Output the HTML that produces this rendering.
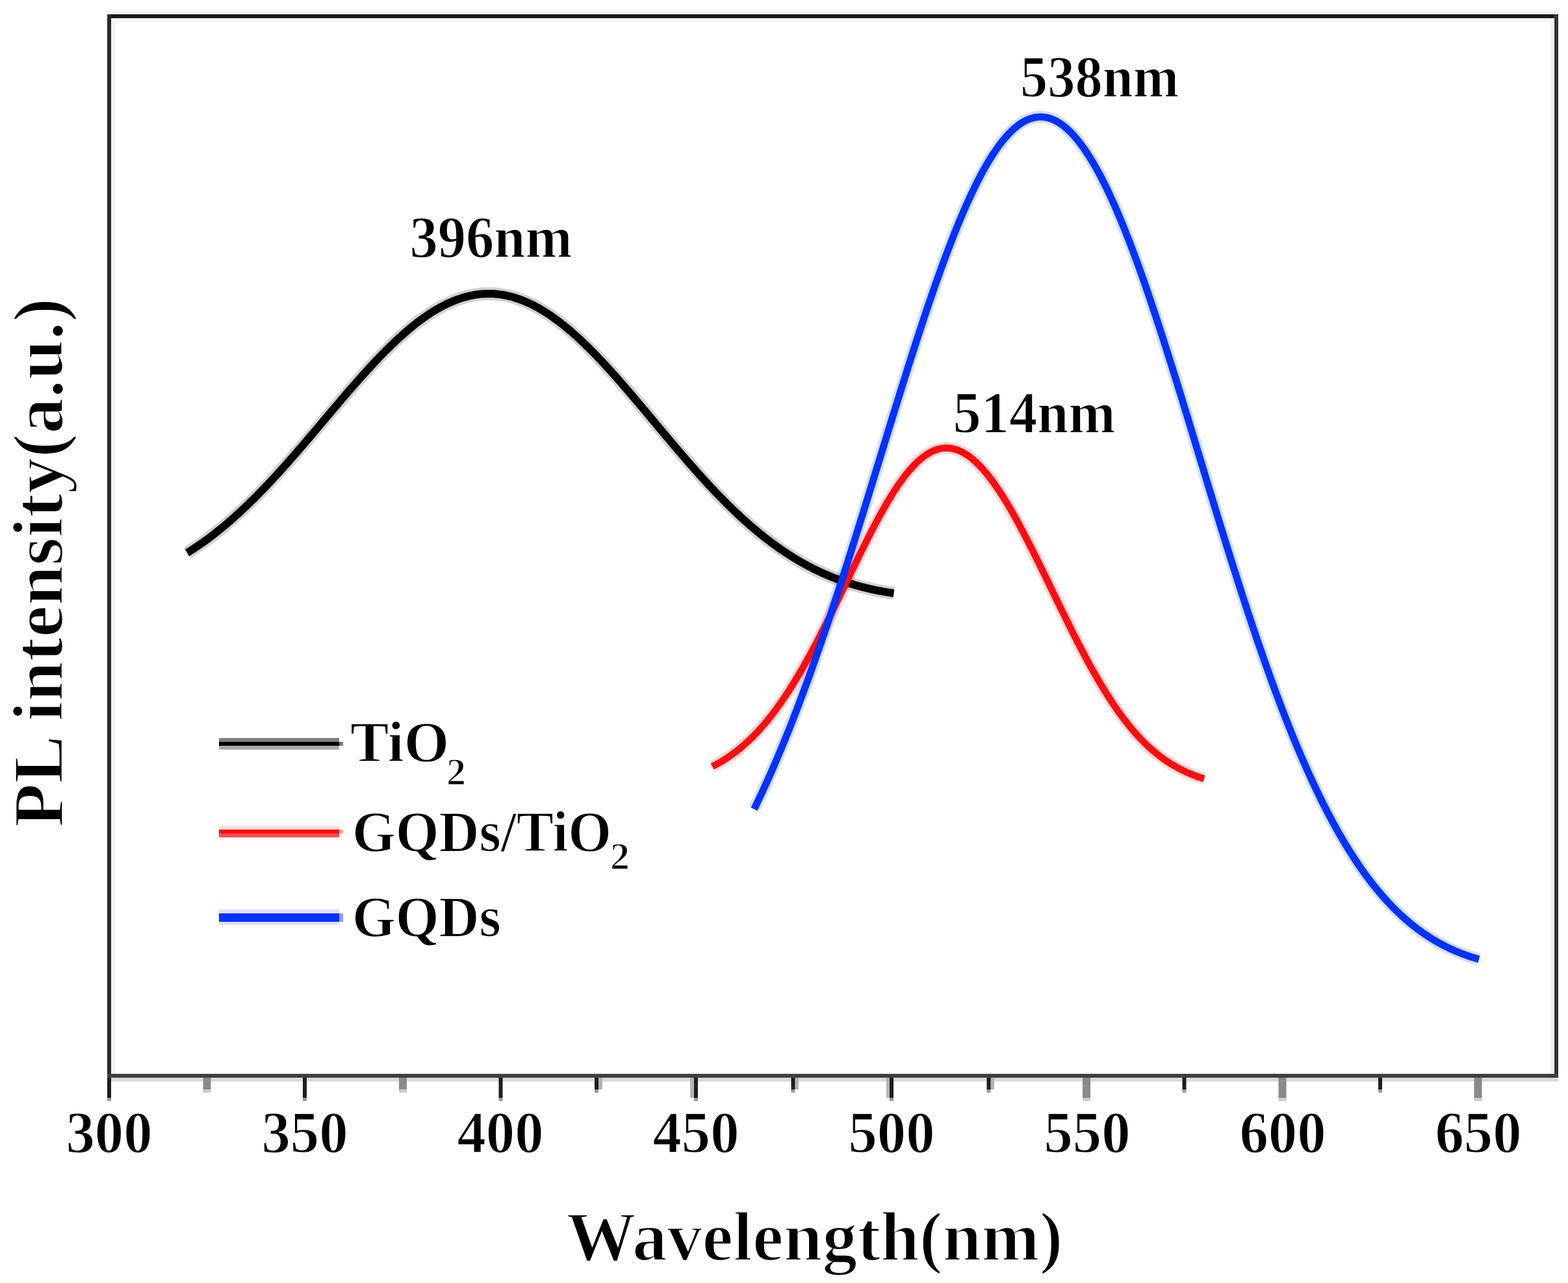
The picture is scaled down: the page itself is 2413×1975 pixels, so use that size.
<!DOCTYPE html>
<html><head><meta charset="utf-8"><title>PL spectra</title>
<style>
html,body{margin:0;padding:0;background:#fff;}
body{width:2413px;height:1975px;overflow:hidden;}
svg{display:block;}
.t{font-family:'Liberation Serif','Times New Roman',serif;font-weight:bold;fill:#000;stroke:#fff;stroke-width:1.5px;}
.ttl{stroke-width:2.5px;}
</style></head><body>
<svg width="2413" height="1975" viewBox="0 0 2413 1975"><rect x="165" y="16" width="2233" height="6" fill="#f1f1f1"/>
<rect x="165" y="28" width="2227" height="6" fill="#f4f4f4"/>
<rect x="171" y="28" width="6" height="1625" fill="#f3f3f3"/>
<rect x="2386" y="28" width="6" height="1625" fill="#f0f0f0"/>
<rect x="165" y="1659" width="2233" height="6" fill="#dcdcdc"/>
<rect x="165" y="22" width="2233" height="6" fill="#191919"/>
<rect x="165" y="22" width="6" height="1637" fill="#2a2a2a"/>
<rect x="2392" y="22" width="6" height="1637" fill="#333"/>
<rect x="165" y="1653" width="2233" height="6" fill="#404040"/>
<rect x="165" y="1659" width="6" height="31" fill="#1e1e1e"/>
<rect x="165" y="1690" width="6" height="5" fill="#9a9a9a"/>
<rect x="312.5" y="1659" width="12.0" height="18" fill="#8a8a8a"/>
<rect x="312.5" y="1677" width="12.0" height="5" fill="#cfcfcf"/>
<rect x="466" y="1659" width="6" height="31" fill="#1e1e1e"/>
<rect x="466" y="1690" width="6" height="5" fill="#9a9a9a"/>
<rect x="614" y="1659" width="12" height="18" fill="#8a8a8a"/>
<rect x="614" y="1677" width="12" height="5" fill="#cfcfcf"/>
<rect x="767.5" y="1659" width="6.0" height="31" fill="#1e1e1e"/>
<rect x="767.5" y="1690" width="6.0" height="5" fill="#9a9a9a"/>
<rect x="921" y="1659" width="6" height="18" fill="#b4b4b4"/>
<rect x="915" y="1659" width="6" height="18" fill="#1e1e1e"/>
<rect x="915" y="1677" width="6" height="5" fill="#9a9a9a"/>
<rect x="1062" y="1659" width="6" height="31" fill="#b4b4b4"/>
<rect x="1068" y="1659" width="6" height="31" fill="#1e1e1e"/>
<rect x="1068" y="1690" width="6" height="5" fill="#9a9a9a"/>
<rect x="1223.5" y="1659" width="5.5" height="18" fill="#b4b4b4"/>
<rect x="1217.5" y="1659" width="6.0" height="18" fill="#1e1e1e"/>
<rect x="1217.5" y="1677" width="6.0" height="5" fill="#9a9a9a"/>
<rect x="1364" y="1659" width="5" height="31" fill="#b4b4b4"/>
<rect x="1369" y="1659" width="6" height="31" fill="#1e1e1e"/>
<rect x="1369" y="1690" width="6" height="5" fill="#9a9a9a"/>
<rect x="1524.5" y="1659" width="5.5" height="18" fill="#b4b4b4"/>
<rect x="1518.5" y="1659" width="6.0" height="18" fill="#1e1e1e"/>
<rect x="1518.5" y="1677" width="6.0" height="5" fill="#9a9a9a"/>
<rect x="1666" y="1659" width="12" height="31" fill="#8a8a8a"/>
<rect x="1666" y="1690" width="12" height="5" fill="#cfcfcf"/>
<rect x="1819.5" y="1659" width="6.0" height="18" fill="#1e1e1e"/>
<rect x="1819.5" y="1677" width="6.0" height="5" fill="#9a9a9a"/>
<rect x="1967.5" y="1659" width="12.0" height="31" fill="#8a8a8a"/>
<rect x="1967.5" y="1690" width="12.0" height="5" fill="#cfcfcf"/>
<rect x="2121" y="1659" width="6" height="18" fill="#1e1e1e"/>
<rect x="2121" y="1677" width="6" height="5" fill="#9a9a9a"/>
<rect x="2268.5" y="1659" width="12.0" height="31" fill="#8a8a8a"/>
<rect x="2268.5" y="1690" width="12.0" height="5" fill="#cfcfcf"/>
<text x="168.0" y="1774" text-anchor="middle" font-size="90" class="t" textLength="133" lengthAdjust="spacingAndGlyphs">300</text>
<text x="469.0" y="1774" text-anchor="middle" font-size="90" class="t" textLength="133" lengthAdjust="spacingAndGlyphs">350</text>
<text x="770.0" y="1774" text-anchor="middle" font-size="90" class="t" textLength="133" lengthAdjust="spacingAndGlyphs">400</text>
<text x="1071.0" y="1774" text-anchor="middle" font-size="90" class="t" textLength="133" lengthAdjust="spacingAndGlyphs">450</text>
<text x="1372.0" y="1774" text-anchor="middle" font-size="90" class="t" textLength="133" lengthAdjust="spacingAndGlyphs">500</text>
<text x="1673.0" y="1774" text-anchor="middle" font-size="90" class="t" textLength="133" lengthAdjust="spacingAndGlyphs">550</text>
<text x="1974.0" y="1774" text-anchor="middle" font-size="90" class="t" textLength="133" lengthAdjust="spacingAndGlyphs">600</text>
<text x="2275.0" y="1774" text-anchor="middle" font-size="90" class="t" textLength="133" lengthAdjust="spacingAndGlyphs">650</text>
<path d="M288.0,851.0 L291.0,849.2 L294.0,847.3 L297.0,845.3 L300.0,843.3 L303.0,841.3 L306.0,839.3 L309.0,837.2 L312.0,835.1 L315.0,833.0 L318.0,830.8 L321.0,828.6 L324.0,826.3 L327.0,824.0 L330.0,821.7 L333.0,819.3 L336.0,816.9 L339.0,814.5 L342.0,812.1 L345.0,809.6 L348.0,807.1 L351.0,804.5 L354.0,801.9 L357.0,799.3 L360.0,796.6 L363.0,793.9 L366.0,791.2 L369.0,788.5 L372.0,785.7 L375.0,782.9 L378.0,780.0 L381.0,777.2 L384.0,774.2 L387.0,771.3 L390.0,768.4 L393.0,765.4 L396.0,762.3 L399.0,759.3 L402.0,756.2 L405.0,753.1 L408.0,750.0 L411.0,746.8 L414.0,743.7 L417.0,740.5 L420.0,737.2 L423.0,734.0 L426.0,730.7 L429.0,727.4 L432.0,724.1 L435.0,720.8 L438.0,717.5 L441.0,714.1 L444.0,710.7 L447.0,707.3 L450.0,703.9 L453.0,700.4 L456.0,697.0 L459.0,693.5 L462.0,690.0 L465.0,686.6 L468.0,683.1 L471.0,679.5 L474.0,676.0 L477.0,672.5 L480.0,669.0 L483.0,665.4 L486.0,661.9 L489.0,658.3 L492.0,654.8 L495.0,651.2 L498.0,647.7 L501.0,644.1 L504.0,640.5 L507.0,637.0 L510.0,633.4 L513.0,629.9 L516.0,626.3 L519.0,622.8 L522.0,619.3 L525.0,615.7 L528.0,612.2 L531.0,608.7 L534.0,605.2 L537.0,601.7 L540.0,598.3 L543.0,594.8 L546.0,591.4 L549.0,588.0 L552.0,584.6 L555.0,581.2 L558.0,577.8 L561.0,574.5 L564.0,571.2 L567.0,567.9 L570.0,564.6 L573.0,561.4 L576.0,558.1 L579.0,555.0 L582.0,551.8 L585.0,548.7 L588.0,545.6 L591.0,542.5 L594.0,539.5 L597.0,536.5 L600.0,533.6 L603.0,530.6 L606.0,527.8 L609.0,524.9 L612.0,522.1 L615.0,519.4 L618.0,516.7 L621.0,514.0 L624.0,511.4 L627.0,508.8 L630.0,506.2 L633.0,503.8 L636.0,501.3 L639.0,498.9 L642.0,496.6 L645.0,494.3 L648.0,492.1 L651.0,489.9 L654.0,487.8 L657.0,485.7 L660.0,483.7 L663.0,481.7 L666.0,479.8 L669.0,478.0 L672.0,476.2 L675.0,474.5 L678.0,472.8 L681.0,471.2 L684.0,469.6 L687.0,468.2 L690.0,466.7 L693.0,465.4 L696.0,464.1 L699.0,462.9 L702.0,461.7 L705.0,460.6 L708.0,459.6 L711.0,458.6 L714.0,457.7 L717.0,456.9 L720.0,456.1 L723.0,455.4 L726.0,454.8 L729.0,454.2 L732.0,453.7 L735.0,453.3 L738.0,452.9 L741.0,452.6 L744.0,452.4 L747.0,452.2 L750.0,452.2 L753.0,452.2 L756.0,452.2 L759.0,452.3 L762.0,452.5 L765.0,452.8 L768.0,453.1 L771.0,453.5 L774.0,454.0 L777.0,454.5 L780.0,455.1 L783.0,455.8 L786.0,456.5 L789.0,457.3 L792.0,458.2 L795.0,459.2 L798.0,460.2 L801.0,461.2 L804.0,462.4 L807.0,463.6 L810.0,464.9 L813.0,466.2 L816.0,467.6 L819.0,469.0 L822.0,470.6 L825.0,472.2 L828.0,473.8 L831.0,475.5 L834.0,477.3 L837.0,479.1 L840.0,481.0 L843.0,482.9 L846.0,484.9 L849.0,487.0 L852.0,489.1 L855.0,491.3 L858.0,493.5 L861.0,495.7 L864.0,498.1 L867.0,500.4 L870.0,502.9 L873.0,505.3 L876.0,507.9 L879.0,510.4 L882.0,513.1 L885.0,515.7 L888.0,518.4 L891.0,521.2 L894.0,524.0 L897.0,526.8 L900.0,529.7 L903.0,532.6 L906.0,535.6 L909.0,538.6 L912.0,541.6 L915.0,544.6 L918.0,547.7 L921.0,550.9 L924.0,554.0 L927.0,557.2 L930.0,560.4 L933.0,563.7 L936.0,567.0 L939.0,570.3 L942.0,573.6 L945.0,577.0 L948.0,580.3 L951.0,583.7 L954.0,587.1 L957.0,590.6 L960.0,594.0 L963.0,597.5 L966.0,601.0 L969.0,604.5 L972.0,608.0 L975.0,611.5 L978.0,615.1 L981.0,618.6 L984.0,622.2 L987.0,625.8 L990.0,629.3 L993.0,632.9 L996.0,636.5 L999.0,640.1 L1002.0,643.7 L1005.0,647.3 L1008.0,650.9 L1011.0,654.5 L1014.0,658.1 L1017.0,661.6 L1020.0,665.2 L1023.0,668.8 L1026.0,672.4 L1029.0,675.9 L1032.0,679.5 L1035.0,683.1 L1038.0,686.6 L1041.0,690.1 L1044.0,693.7 L1047.0,697.2 L1050.0,700.7 L1053.0,704.1 L1056.0,707.6 L1059.0,711.1 L1062.0,714.5 L1065.0,717.9 L1068.0,721.3 L1071.0,724.7 L1074.0,728.1 L1077.0,731.4 L1080.0,734.7 L1083.0,738.0 L1086.0,741.3 L1089.0,744.6 L1092.0,747.8 L1095.0,751.0 L1098.0,754.2 L1101.0,757.3 L1104.0,760.5 L1107.0,763.6 L1110.0,766.6 L1113.0,769.7 L1116.0,772.7 L1119.0,775.7 L1122.0,778.7 L1125.0,781.6 L1128.0,784.5 L1131.0,787.4 L1134.0,790.2 L1137.0,793.0 L1140.0,795.8 L1143.0,798.6 L1146.0,801.3 L1149.0,804.0 L1152.0,806.6 L1155.0,809.3 L1158.0,811.8 L1161.0,814.4 L1164.0,816.9 L1167.0,819.4 L1170.0,821.9 L1173.0,824.3 L1176.0,826.7 L1179.0,829.0 L1182.0,831.3 L1185.0,833.6 L1188.0,835.8 L1191.0,838.1 L1194.0,840.2 L1197.0,842.4 L1200.0,844.5 L1203.0,846.6 L1206.0,848.6 L1209.0,850.6 L1212.0,852.6 L1215.0,854.5 L1218.0,856.4 L1221.0,858.3 L1224.0,860.1 L1227.0,861.9 L1230.0,863.7 L1233.0,865.4 L1236.0,867.1 L1239.0,868.7 L1242.0,870.4 L1245.0,872.0 L1248.0,873.5 L1251.0,875.1 L1254.0,876.6 L1257.0,878.0 L1260.0,879.5 L1263.0,880.9 L1266.0,882.2 L1269.0,883.6 L1272.0,884.9 L1275.0,886.1 L1278.0,887.4 L1281.0,888.6 L1284.0,889.8 L1287.0,890.9 L1290.0,892.1 L1293.0,893.1 L1296.0,894.2 L1299.0,895.3 L1302.0,896.3 L1305.0,897.2 L1308.0,898.2 L1311.0,899.1 L1314.0,900.0 L1317.0,900.9 L1320.0,901.7 L1323.0,902.6 L1326.0,903.4 L1329.0,904.1 L1332.0,904.9 L1335.0,905.6 L1338.0,906.3 L1341.0,907.0 L1344.0,907.6 L1347.0,908.3 L1350.0,908.9 L1353.0,909.5 L1356.0,910.0 L1359.0,910.6 L1362.0,911.1 L1365.0,911.6 L1368.0,912.1 L1371.0,912.5 L1374.0,913.0 L1375.5,913.2" fill="none" stroke="#000" stroke-opacity="0.18" stroke-width="20" stroke-linejoin="round"/>
<path d="M1096.0,1179.9 L1099.0,1178.4 L1102.0,1176.8 L1105.0,1175.2 L1108.0,1173.5 L1111.0,1171.7 L1114.0,1169.9 L1117.0,1167.9 L1120.0,1166.0 L1123.0,1163.9 L1126.0,1161.8 L1129.0,1159.6 L1132.0,1157.4 L1135.0,1155.0 L1138.0,1152.6 L1141.0,1150.2 L1144.0,1147.6 L1147.0,1144.9 L1150.0,1142.2 L1153.0,1139.4 L1156.0,1136.5 L1159.0,1133.5 L1162.0,1130.5 L1165.0,1127.3 L1168.0,1124.1 L1171.0,1120.8 L1174.0,1117.4 L1177.0,1113.9 L1180.0,1110.3 L1183.0,1106.6 L1186.0,1102.8 L1189.0,1098.9 L1192.0,1095.0 L1195.0,1091.0 L1198.0,1086.8 L1201.0,1082.6 L1204.0,1078.3 L1207.0,1073.9 L1210.0,1069.4 L1213.0,1064.8 L1216.0,1060.1 L1219.0,1055.4 L1222.0,1050.5 L1225.0,1045.6 L1228.0,1040.6 L1231.0,1035.5 L1234.0,1030.4 L1237.0,1025.1 L1240.0,1019.8 L1243.0,1014.4 L1246.0,1008.9 L1249.0,1003.4 L1252.0,997.8 L1255.0,992.1 L1258.0,986.4 L1261.0,980.6 L1264.0,974.7 L1267.0,968.8 L1270.0,962.9 L1273.0,956.9 L1276.0,950.8 L1279.0,944.8 L1282.0,938.7 L1285.0,932.5 L1288.0,926.3 L1291.0,920.2 L1294.0,913.9 L1297.0,907.7 L1300.0,901.5 L1303.0,895.3 L1306.0,889.0 L1309.0,882.8 L1312.0,876.6 L1315.0,870.4 L1318.0,864.2 L1321.0,858.0 L1324.0,851.9 L1327.0,845.8 L1330.0,839.8 L1333.0,833.8 L1336.0,827.8 L1339.0,821.9 L1342.0,816.1 L1345.0,810.4 L1348.0,804.7 L1351.0,799.1 L1354.0,793.6 L1357.0,788.2 L1360.0,782.8 L1363.0,777.6 L1366.0,772.5 L1369.0,767.5 L1372.0,762.6 L1375.0,757.8 L1378.0,753.2 L1381.0,748.7 L1384.0,744.3 L1387.0,740.1 L1390.0,736.0 L1393.0,732.0 L1396.0,728.3 L1399.0,724.6 L1402.0,721.2 L1405.0,717.9 L1408.0,714.7 L1411.0,711.8 L1414.0,709.0 L1417.0,706.4 L1420.0,704.0 L1423.0,701.7 L1426.0,699.7 L1429.0,697.8 L1432.0,696.1 L1435.0,694.6 L1438.0,693.3 L1441.0,692.2 L1444.0,691.3 L1447.0,690.6 L1450.0,690.1 L1453.0,689.8 L1456.0,689.6 L1459.0,689.7 L1462.0,690.0 L1465.0,690.4 L1468.0,691.1 L1471.0,691.9 L1474.0,692.9 L1477.0,694.2 L1480.0,695.6 L1483.0,697.2 L1486.0,699.0 L1489.0,700.9 L1492.0,703.1 L1495.0,705.4 L1498.0,707.9 L1501.0,710.5 L1504.0,713.4 L1507.0,716.4 L1510.0,719.5 L1513.0,722.8 L1516.0,726.3 L1519.0,729.9 L1522.0,733.7 L1525.0,737.6 L1528.0,741.7 L1531.0,745.9 L1534.0,750.2 L1537.0,754.6 L1540.0,759.2 L1543.0,763.9 L1546.0,768.7 L1549.0,773.6 L1552.0,778.6 L1555.0,783.7 L1558.0,788.9 L1561.0,794.2 L1564.0,799.6 L1567.0,805.1 L1570.0,810.7 L1573.0,816.3 L1576.0,822.0 L1579.0,827.8 L1582.0,833.6 L1585.0,839.5 L1588.0,845.4 L1591.0,851.4 L1594.0,857.4 L1597.0,863.4 L1600.0,869.5 L1603.0,875.6 L1606.0,881.8 L1609.0,887.9 L1612.0,894.1 L1615.0,900.3 L1618.0,906.5 L1621.0,912.7 L1624.0,918.9 L1627.0,925.1 L1630.0,931.2 L1633.0,937.4 L1636.0,943.5 L1639.0,949.7 L1642.0,955.7 L1645.0,961.8 L1648.0,967.8 L1651.0,973.8 L1654.0,979.8 L1657.0,985.7 L1660.0,991.5 L1663.0,997.3 L1666.0,1003.0 L1669.0,1008.7 L1672.0,1014.3 L1675.0,1019.9 L1678.0,1025.4 L1681.0,1030.8 L1684.0,1036.1 L1687.0,1041.4 L1690.0,1046.6 L1693.0,1051.7 L1696.0,1056.7 L1699.0,1061.6 L1702.0,1066.5 L1705.0,1071.3 L1708.0,1075.9 L1711.0,1080.5 L1714.0,1085.0 L1717.0,1089.4 L1720.0,1093.7 L1723.0,1097.9 L1726.0,1102.0 L1729.0,1106.1 L1732.0,1110.0 L1735.0,1113.8 L1738.0,1117.6 L1741.0,1121.2 L1744.0,1124.8 L1747.0,1128.2 L1750.0,1131.6 L1753.0,1134.8 L1756.0,1138.0 L1759.0,1141.1 L1762.0,1144.1 L1765.0,1147.0 L1768.0,1149.8 L1771.0,1152.5 L1774.0,1155.1 L1777.0,1157.7 L1780.0,1160.1 L1783.0,1162.5 L1786.0,1164.8 L1789.0,1167.0 L1792.0,1169.2 L1795.0,1171.3 L1798.0,1173.3 L1801.0,1175.2 L1804.0,1177.0 L1807.0,1178.8 L1810.0,1180.5 L1813.0,1182.2 L1816.0,1183.8 L1819.0,1185.3 L1822.0,1186.8 L1825.0,1188.2 L1828.0,1189.5 L1831.0,1190.8 L1834.0,1192.1 L1837.0,1193.3 L1840.0,1194.4 L1843.0,1195.5 L1846.0,1196.6 L1849.0,1197.6 L1852.0,1198.5 L1853.0,1198.8" fill="none" stroke="#ff0c10" stroke-opacity="0.16" stroke-width="19" stroke-linejoin="round"/>
<path d="M1160.5,1245.5 L1163.5,1239.3 L1166.5,1233.1 L1169.5,1226.7 L1172.5,1220.3 L1175.5,1213.8 L1178.5,1207.2 L1181.5,1200.6 L1184.5,1193.9 L1187.5,1187.0 L1190.5,1180.2 L1193.5,1173.2 L1196.5,1166.2 L1199.5,1159.0 L1202.5,1151.8 L1205.5,1144.6 L1208.5,1137.2 L1211.5,1129.8 L1214.5,1122.3 L1217.5,1114.7 L1220.5,1107.0 L1223.5,1099.3 L1226.5,1091.5 L1229.5,1083.6 L1232.5,1075.6 L1235.5,1067.6 L1238.5,1059.5 L1241.5,1051.3 L1244.5,1043.1 L1247.5,1034.8 L1250.5,1026.4 L1253.5,1017.9 L1256.5,1009.4 L1259.5,1000.8 L1262.5,992.2 L1265.5,983.5 L1268.5,974.7 L1271.5,965.8 L1274.5,957.0 L1277.5,948.0 L1280.5,939.0 L1283.5,929.9 L1286.5,920.8 L1289.5,911.6 L1292.5,902.4 L1295.5,893.1 L1298.5,883.8 L1301.5,874.5 L1304.5,865.1 L1307.5,855.6 L1310.5,846.1 L1313.5,836.6 L1316.5,827.1 L1319.5,817.5 L1322.5,807.9 L1325.5,798.2 L1328.5,788.6 L1331.5,778.9 L1334.5,769.2 L1337.5,759.4 L1340.5,749.7 L1343.5,739.9 L1346.5,730.2 L1349.5,720.4 L1352.5,710.6 L1355.5,700.8 L1358.5,691.0 L1361.5,681.3 L1364.5,671.5 L1367.5,661.7 L1370.5,652.0 L1373.5,642.2 L1376.5,632.5 L1379.5,622.8 L1382.5,613.1 L1385.5,603.5 L1388.5,593.9 L1391.5,584.3 L1394.5,574.8 L1397.5,565.2 L1400.5,555.8 L1403.5,546.4 L1406.5,537.0 L1409.5,527.7 L1412.5,518.4 L1415.5,509.2 L1418.5,500.1 L1421.5,491.0 L1424.5,482.0 L1427.5,473.1 L1430.5,464.3 L1433.5,455.5 L1436.5,446.8 L1439.5,438.2 L1442.5,429.7 L1445.5,421.3 L1448.5,412.9 L1451.5,404.7 L1454.5,396.6 L1457.5,388.6 L1460.5,380.7 L1463.5,372.9 L1466.5,365.2 L1469.5,357.6 L1472.5,350.2 L1475.5,342.8 L1478.5,335.6 L1481.5,328.6 L1484.5,321.6 L1487.5,314.8 L1490.5,308.2 L1493.5,301.7 L1496.5,295.3 L1499.5,289.1 L1502.5,283.0 L1505.5,277.1 L1508.5,271.3 L1511.5,265.7 L1514.5,260.2 L1517.5,254.9 L1520.5,249.8 L1523.5,244.8 L1526.5,240.0 L1529.5,235.4 L1532.5,231.0 L1535.5,226.7 L1538.5,222.6 L1541.5,218.7 L1544.5,214.9 L1547.5,211.4 L1550.5,208.0 L1553.5,204.8 L1556.5,201.8 L1559.5,199.0 L1562.5,196.4 L1565.5,194.0 L1568.5,191.7 L1571.5,189.7 L1574.5,187.8 L1577.5,186.2 L1580.5,184.7 L1583.5,183.4 L1586.5,182.4 L1589.5,181.5 L1592.5,180.8 L1595.5,180.4 L1598.5,180.1 L1601.5,180.0 L1604.5,180.1 L1607.5,180.4 L1610.5,180.9 L1613.5,181.7 L1616.5,182.6 L1619.5,183.7 L1622.5,185.0 L1625.5,186.5 L1628.5,188.2 L1631.5,190.1 L1634.5,192.2 L1637.5,194.5 L1640.5,197.0 L1643.5,199.6 L1646.5,202.5 L1649.5,205.5 L1652.5,208.8 L1655.5,212.2 L1658.5,215.8 L1661.5,219.6 L1664.5,223.6 L1667.5,227.7 L1670.5,232.1 L1673.5,236.6 L1676.5,241.3 L1679.5,246.1 L1682.5,251.1 L1685.5,256.3 L1688.5,261.7 L1691.5,267.2 L1694.5,272.9 L1697.5,278.8 L1700.5,284.8 L1703.5,290.9 L1706.5,297.2 L1709.5,303.7 L1712.5,310.3 L1715.5,317.0 L1718.5,323.9 L1721.5,331.0 L1724.5,338.1 L1727.5,345.4 L1730.5,352.8 L1733.5,360.4 L1736.5,368.0 L1739.5,375.8 L1742.5,383.7 L1745.5,391.8 L1748.5,399.9 L1751.5,408.1 L1754.5,416.5 L1757.5,424.9 L1760.5,433.4 L1763.5,442.1 L1766.5,450.8 L1769.5,459.6 L1772.5,468.5 L1775.5,477.5 L1778.5,486.5 L1781.5,495.7 L1784.5,504.9 L1787.5,514.1 L1790.5,523.4 L1793.5,532.8 L1796.5,542.3 L1799.5,551.8 L1802.5,561.3 L1805.5,570.9 L1808.5,580.5 L1811.5,590.2 L1814.5,599.9 L1817.5,609.7 L1820.5,619.5 L1823.5,629.3 L1826.5,639.1 L1829.5,648.9 L1832.5,658.8 L1835.5,668.7 L1838.5,678.6 L1841.5,688.5 L1844.5,698.4 L1847.5,708.3 L1850.5,718.2 L1853.5,728.1 L1856.5,738.0 L1859.5,747.9 L1862.5,757.8 L1865.5,767.6 L1868.5,777.4 L1871.5,787.3 L1874.5,797.1 L1877.5,806.8 L1880.5,816.6 L1883.5,826.3 L1886.5,836.0 L1889.5,845.6 L1892.5,855.2 L1895.5,864.8 L1898.5,874.3 L1901.5,883.7 L1904.5,893.2 L1907.5,902.5 L1910.5,911.9 L1913.5,921.1 L1916.5,930.3 L1919.5,939.5 L1922.5,948.6 L1925.5,957.6 L1928.5,966.6 L1931.5,975.5 L1934.5,984.4 L1937.5,993.1 L1940.5,1001.8 L1943.5,1010.5 L1946.5,1019.0 L1949.5,1027.5 L1952.5,1035.9 L1955.5,1044.3 L1958.5,1052.5 L1961.5,1060.7 L1964.5,1068.8 L1967.5,1076.9 L1970.5,1084.8 L1973.5,1092.7 L1976.5,1100.4 L1979.5,1108.1 L1982.5,1115.7 L1985.5,1123.3 L1988.5,1130.7 L1991.5,1138.1 L1994.5,1145.3 L1997.5,1152.5 L2000.5,1159.6 L2003.5,1166.6 L2006.5,1173.5 L2009.5,1180.3 L2012.5,1187.1 L2015.5,1193.7 L2018.5,1200.3 L2021.5,1206.7 L2024.5,1213.1 L2027.5,1219.4 L2030.5,1225.6 L2033.5,1231.7 L2036.5,1237.7 L2039.5,1243.6 L2042.5,1249.5 L2045.5,1255.2 L2048.5,1260.9 L2051.5,1266.5 L2054.5,1271.9 L2057.5,1277.3 L2060.5,1282.6 L2063.5,1287.9 L2066.5,1293.0 L2069.5,1298.0 L2072.5,1303.0 L2075.5,1307.9 L2078.5,1312.6 L2081.5,1317.3 L2084.5,1321.9 L2087.5,1326.5 L2090.5,1330.9 L2093.5,1335.3 L2096.5,1339.6 L2099.5,1343.8 L2102.5,1347.9 L2105.5,1351.9 L2108.5,1355.9 L2111.5,1359.8 L2114.5,1363.6 L2117.5,1367.3 L2120.5,1371.0 L2123.5,1374.6 L2126.5,1378.1 L2129.5,1381.5 L2132.5,1384.8 L2135.5,1388.1 L2138.5,1391.3 L2141.5,1394.5 L2144.5,1397.5 L2147.5,1400.6 L2150.5,1403.5 L2153.5,1406.4 L2156.5,1409.2 L2159.5,1411.9 L2162.5,1414.6 L2165.5,1417.2 L2168.5,1419.7 L2171.5,1422.2 L2174.5,1424.6 L2177.5,1427.0 L2180.5,1429.3 L2183.5,1431.5 L2186.5,1433.7 L2189.5,1435.9 L2192.5,1437.9 L2195.5,1439.9 L2198.5,1441.9 L2201.5,1443.8 L2204.5,1445.7 L2207.5,1447.5 L2210.5,1449.3 L2213.5,1451.0 L2216.5,1452.6 L2219.5,1454.2 L2222.5,1455.8 L2225.5,1457.3 L2228.5,1458.8 L2231.5,1460.2 L2234.5,1461.6 L2237.5,1462.9 L2240.5,1464.2 L2243.5,1465.5 L2246.5,1466.7 L2249.5,1467.9 L2252.5,1469.0 L2255.5,1470.1 L2258.5,1471.2 L2261.5,1472.2 L2264.5,1473.2 L2267.5,1474.1 L2270.5,1475.0 L2273.5,1475.9 L2276.0,1476.6" fill="none" stroke="#0033ff" stroke-opacity="0.16" stroke-width="19" stroke-linejoin="round"/>
<path d="M288.0,851.0 L291.0,849.2 L294.0,847.3 L297.0,845.3 L300.0,843.3 L303.0,841.3 L306.0,839.3 L309.0,837.2 L312.0,835.1 L315.0,833.0 L318.0,830.8 L321.0,828.6 L324.0,826.3 L327.0,824.0 L330.0,821.7 L333.0,819.3 L336.0,816.9 L339.0,814.5 L342.0,812.1 L345.0,809.6 L348.0,807.1 L351.0,804.5 L354.0,801.9 L357.0,799.3 L360.0,796.6 L363.0,793.9 L366.0,791.2 L369.0,788.5 L372.0,785.7 L375.0,782.9 L378.0,780.0 L381.0,777.2 L384.0,774.2 L387.0,771.3 L390.0,768.4 L393.0,765.4 L396.0,762.3 L399.0,759.3 L402.0,756.2 L405.0,753.1 L408.0,750.0 L411.0,746.8 L414.0,743.7 L417.0,740.5 L420.0,737.2 L423.0,734.0 L426.0,730.7 L429.0,727.4 L432.0,724.1 L435.0,720.8 L438.0,717.5 L441.0,714.1 L444.0,710.7 L447.0,707.3 L450.0,703.9 L453.0,700.4 L456.0,697.0 L459.0,693.5 L462.0,690.0 L465.0,686.6 L468.0,683.1 L471.0,679.5 L474.0,676.0 L477.0,672.5 L480.0,669.0 L483.0,665.4 L486.0,661.9 L489.0,658.3 L492.0,654.8 L495.0,651.2 L498.0,647.7 L501.0,644.1 L504.0,640.5 L507.0,637.0 L510.0,633.4 L513.0,629.9 L516.0,626.3 L519.0,622.8 L522.0,619.3 L525.0,615.7 L528.0,612.2 L531.0,608.7 L534.0,605.2 L537.0,601.7 L540.0,598.3 L543.0,594.8 L546.0,591.4 L549.0,588.0 L552.0,584.6 L555.0,581.2 L558.0,577.8 L561.0,574.5 L564.0,571.2 L567.0,567.9 L570.0,564.6 L573.0,561.4 L576.0,558.1 L579.0,555.0 L582.0,551.8 L585.0,548.7 L588.0,545.6 L591.0,542.5 L594.0,539.5 L597.0,536.5 L600.0,533.6 L603.0,530.6 L606.0,527.8 L609.0,524.9 L612.0,522.1 L615.0,519.4 L618.0,516.7 L621.0,514.0 L624.0,511.4 L627.0,508.8 L630.0,506.2 L633.0,503.8 L636.0,501.3 L639.0,498.9 L642.0,496.6 L645.0,494.3 L648.0,492.1 L651.0,489.9 L654.0,487.8 L657.0,485.7 L660.0,483.7 L663.0,481.7 L666.0,479.8 L669.0,478.0 L672.0,476.2 L675.0,474.5 L678.0,472.8 L681.0,471.2 L684.0,469.6 L687.0,468.2 L690.0,466.7 L693.0,465.4 L696.0,464.1 L699.0,462.9 L702.0,461.7 L705.0,460.6 L708.0,459.6 L711.0,458.6 L714.0,457.7 L717.0,456.9 L720.0,456.1 L723.0,455.4 L726.0,454.8 L729.0,454.2 L732.0,453.7 L735.0,453.3 L738.0,452.9 L741.0,452.6 L744.0,452.4 L747.0,452.2 L750.0,452.2 L753.0,452.2 L756.0,452.2 L759.0,452.3 L762.0,452.5 L765.0,452.8 L768.0,453.1 L771.0,453.5 L774.0,454.0 L777.0,454.5 L780.0,455.1 L783.0,455.8 L786.0,456.5 L789.0,457.3 L792.0,458.2 L795.0,459.2 L798.0,460.2 L801.0,461.2 L804.0,462.4 L807.0,463.6 L810.0,464.9 L813.0,466.2 L816.0,467.6 L819.0,469.0 L822.0,470.6 L825.0,472.2 L828.0,473.8 L831.0,475.5 L834.0,477.3 L837.0,479.1 L840.0,481.0 L843.0,482.9 L846.0,484.9 L849.0,487.0 L852.0,489.1 L855.0,491.3 L858.0,493.5 L861.0,495.7 L864.0,498.1 L867.0,500.4 L870.0,502.9 L873.0,505.3 L876.0,507.9 L879.0,510.4 L882.0,513.1 L885.0,515.7 L888.0,518.4 L891.0,521.2 L894.0,524.0 L897.0,526.8 L900.0,529.7 L903.0,532.6 L906.0,535.6 L909.0,538.6 L912.0,541.6 L915.0,544.6 L918.0,547.7 L921.0,550.9 L924.0,554.0 L927.0,557.2 L930.0,560.4 L933.0,563.7 L936.0,567.0 L939.0,570.3 L942.0,573.6 L945.0,577.0 L948.0,580.3 L951.0,583.7 L954.0,587.1 L957.0,590.6 L960.0,594.0 L963.0,597.5 L966.0,601.0 L969.0,604.5 L972.0,608.0 L975.0,611.5 L978.0,615.1 L981.0,618.6 L984.0,622.2 L987.0,625.8 L990.0,629.3 L993.0,632.9 L996.0,636.5 L999.0,640.1 L1002.0,643.7 L1005.0,647.3 L1008.0,650.9 L1011.0,654.5 L1014.0,658.1 L1017.0,661.6 L1020.0,665.2 L1023.0,668.8 L1026.0,672.4 L1029.0,675.9 L1032.0,679.5 L1035.0,683.1 L1038.0,686.6 L1041.0,690.1 L1044.0,693.7 L1047.0,697.2 L1050.0,700.7 L1053.0,704.1 L1056.0,707.6 L1059.0,711.1 L1062.0,714.5 L1065.0,717.9 L1068.0,721.3 L1071.0,724.7 L1074.0,728.1 L1077.0,731.4 L1080.0,734.7 L1083.0,738.0 L1086.0,741.3 L1089.0,744.6 L1092.0,747.8 L1095.0,751.0 L1098.0,754.2 L1101.0,757.3 L1104.0,760.5 L1107.0,763.6 L1110.0,766.6 L1113.0,769.7 L1116.0,772.7 L1119.0,775.7 L1122.0,778.7 L1125.0,781.6 L1128.0,784.5 L1131.0,787.4 L1134.0,790.2 L1137.0,793.0 L1140.0,795.8 L1143.0,798.6 L1146.0,801.3 L1149.0,804.0 L1152.0,806.6 L1155.0,809.3 L1158.0,811.8 L1161.0,814.4 L1164.0,816.9 L1167.0,819.4 L1170.0,821.9 L1173.0,824.3 L1176.0,826.7 L1179.0,829.0 L1182.0,831.3 L1185.0,833.6 L1188.0,835.8 L1191.0,838.1 L1194.0,840.2 L1197.0,842.4 L1200.0,844.5 L1203.0,846.6 L1206.0,848.6 L1209.0,850.6 L1212.0,852.6 L1215.0,854.5 L1218.0,856.4 L1221.0,858.3 L1224.0,860.1 L1227.0,861.9 L1230.0,863.7 L1233.0,865.4 L1236.0,867.1 L1239.0,868.7 L1242.0,870.4 L1245.0,872.0 L1248.0,873.5 L1251.0,875.1 L1254.0,876.6 L1257.0,878.0 L1260.0,879.5 L1263.0,880.9 L1266.0,882.2 L1269.0,883.6 L1272.0,884.9 L1275.0,886.1 L1278.0,887.4 L1281.0,888.6 L1284.0,889.8 L1287.0,890.9 L1290.0,892.1 L1293.0,893.1 L1296.0,894.2 L1299.0,895.3 L1302.0,896.3 L1305.0,897.2 L1308.0,898.2 L1311.0,899.1 L1314.0,900.0 L1317.0,900.9 L1320.0,901.7 L1323.0,902.6 L1326.0,903.4 L1329.0,904.1 L1332.0,904.9 L1335.0,905.6 L1338.0,906.3 L1341.0,907.0 L1344.0,907.6 L1347.0,908.3 L1350.0,908.9 L1353.0,909.5 L1356.0,910.0 L1359.0,910.6 L1362.0,911.1 L1365.0,911.6 L1368.0,912.1 L1371.0,912.5 L1374.0,913.0 L1375.5,913.2" fill="none" stroke="#000" stroke-width="12" stroke-linejoin="round"/>
<path d="M1096.0,1179.9 L1099.0,1178.4 L1102.0,1176.8 L1105.0,1175.2 L1108.0,1173.5 L1111.0,1171.7 L1114.0,1169.9 L1117.0,1167.9 L1120.0,1166.0 L1123.0,1163.9 L1126.0,1161.8 L1129.0,1159.6 L1132.0,1157.4 L1135.0,1155.0 L1138.0,1152.6 L1141.0,1150.2 L1144.0,1147.6 L1147.0,1144.9 L1150.0,1142.2 L1153.0,1139.4 L1156.0,1136.5 L1159.0,1133.5 L1162.0,1130.5 L1165.0,1127.3 L1168.0,1124.1 L1171.0,1120.8 L1174.0,1117.4 L1177.0,1113.9 L1180.0,1110.3 L1183.0,1106.6 L1186.0,1102.8 L1189.0,1098.9 L1192.0,1095.0 L1195.0,1091.0 L1198.0,1086.8 L1201.0,1082.6 L1204.0,1078.3 L1207.0,1073.9 L1210.0,1069.4 L1213.0,1064.8 L1216.0,1060.1 L1219.0,1055.4 L1222.0,1050.5 L1225.0,1045.6 L1228.0,1040.6 L1231.0,1035.5 L1234.0,1030.4 L1237.0,1025.1 L1240.0,1019.8 L1243.0,1014.4 L1246.0,1008.9 L1249.0,1003.4 L1252.0,997.8 L1255.0,992.1 L1258.0,986.4 L1261.0,980.6 L1264.0,974.7 L1267.0,968.8 L1270.0,962.9 L1273.0,956.9 L1276.0,950.8 L1279.0,944.8 L1282.0,938.7 L1285.0,932.5 L1288.0,926.3 L1291.0,920.2 L1294.0,913.9 L1297.0,907.7 L1300.0,901.5 L1303.0,895.3 L1306.0,889.0 L1309.0,882.8 L1312.0,876.6 L1315.0,870.4 L1318.0,864.2 L1321.0,858.0 L1324.0,851.9 L1327.0,845.8 L1330.0,839.8 L1333.0,833.8 L1336.0,827.8 L1339.0,821.9 L1342.0,816.1 L1345.0,810.4 L1348.0,804.7 L1351.0,799.1 L1354.0,793.6 L1357.0,788.2 L1360.0,782.8 L1363.0,777.6 L1366.0,772.5 L1369.0,767.5 L1372.0,762.6 L1375.0,757.8 L1378.0,753.2 L1381.0,748.7 L1384.0,744.3 L1387.0,740.1 L1390.0,736.0 L1393.0,732.0 L1396.0,728.3 L1399.0,724.6 L1402.0,721.2 L1405.0,717.9 L1408.0,714.7 L1411.0,711.8 L1414.0,709.0 L1417.0,706.4 L1420.0,704.0 L1423.0,701.7 L1426.0,699.7 L1429.0,697.8 L1432.0,696.1 L1435.0,694.6 L1438.0,693.3 L1441.0,692.2 L1444.0,691.3 L1447.0,690.6 L1450.0,690.1 L1453.0,689.8 L1456.0,689.6 L1459.0,689.7 L1462.0,690.0 L1465.0,690.4 L1468.0,691.1 L1471.0,691.9 L1474.0,692.9 L1477.0,694.2 L1480.0,695.6 L1483.0,697.2 L1486.0,699.0 L1489.0,700.9 L1492.0,703.1 L1495.0,705.4 L1498.0,707.9 L1501.0,710.5 L1504.0,713.4 L1507.0,716.4 L1510.0,719.5 L1513.0,722.8 L1516.0,726.3 L1519.0,729.9 L1522.0,733.7 L1525.0,737.6 L1528.0,741.7 L1531.0,745.9 L1534.0,750.2 L1537.0,754.6 L1540.0,759.2 L1543.0,763.9 L1546.0,768.7 L1549.0,773.6 L1552.0,778.6 L1555.0,783.7 L1558.0,788.9 L1561.0,794.2 L1564.0,799.6 L1567.0,805.1 L1570.0,810.7 L1573.0,816.3 L1576.0,822.0 L1579.0,827.8 L1582.0,833.6 L1585.0,839.5 L1588.0,845.4 L1591.0,851.4 L1594.0,857.4 L1597.0,863.4 L1600.0,869.5 L1603.0,875.6 L1606.0,881.8 L1609.0,887.9 L1612.0,894.1 L1615.0,900.3 L1618.0,906.5 L1621.0,912.7 L1624.0,918.9 L1627.0,925.1 L1630.0,931.2 L1633.0,937.4 L1636.0,943.5 L1639.0,949.7 L1642.0,955.7 L1645.0,961.8 L1648.0,967.8 L1651.0,973.8 L1654.0,979.8 L1657.0,985.7 L1660.0,991.5 L1663.0,997.3 L1666.0,1003.0 L1669.0,1008.7 L1672.0,1014.3 L1675.0,1019.9 L1678.0,1025.4 L1681.0,1030.8 L1684.0,1036.1 L1687.0,1041.4 L1690.0,1046.6 L1693.0,1051.7 L1696.0,1056.7 L1699.0,1061.6 L1702.0,1066.5 L1705.0,1071.3 L1708.0,1075.9 L1711.0,1080.5 L1714.0,1085.0 L1717.0,1089.4 L1720.0,1093.7 L1723.0,1097.9 L1726.0,1102.0 L1729.0,1106.1 L1732.0,1110.0 L1735.0,1113.8 L1738.0,1117.6 L1741.0,1121.2 L1744.0,1124.8 L1747.0,1128.2 L1750.0,1131.6 L1753.0,1134.8 L1756.0,1138.0 L1759.0,1141.1 L1762.0,1144.1 L1765.0,1147.0 L1768.0,1149.8 L1771.0,1152.5 L1774.0,1155.1 L1777.0,1157.7 L1780.0,1160.1 L1783.0,1162.5 L1786.0,1164.8 L1789.0,1167.0 L1792.0,1169.2 L1795.0,1171.3 L1798.0,1173.3 L1801.0,1175.2 L1804.0,1177.0 L1807.0,1178.8 L1810.0,1180.5 L1813.0,1182.2 L1816.0,1183.8 L1819.0,1185.3 L1822.0,1186.8 L1825.0,1188.2 L1828.0,1189.5 L1831.0,1190.8 L1834.0,1192.1 L1837.0,1193.3 L1840.0,1194.4 L1843.0,1195.5 L1846.0,1196.6 L1849.0,1197.6 L1852.0,1198.5 L1853.0,1198.8" fill="none" stroke="#ff0c10" stroke-width="10.5" stroke-linejoin="round"/>
<path d="M1160.5,1245.5 L1163.5,1239.3 L1166.5,1233.1 L1169.5,1226.7 L1172.5,1220.3 L1175.5,1213.8 L1178.5,1207.2 L1181.5,1200.6 L1184.5,1193.9 L1187.5,1187.0 L1190.5,1180.2 L1193.5,1173.2 L1196.5,1166.2 L1199.5,1159.0 L1202.5,1151.8 L1205.5,1144.6 L1208.5,1137.2 L1211.5,1129.8 L1214.5,1122.3 L1217.5,1114.7 L1220.5,1107.0 L1223.5,1099.3 L1226.5,1091.5 L1229.5,1083.6 L1232.5,1075.6 L1235.5,1067.6 L1238.5,1059.5 L1241.5,1051.3 L1244.5,1043.1 L1247.5,1034.8 L1250.5,1026.4 L1253.5,1017.9 L1256.5,1009.4 L1259.5,1000.8 L1262.5,992.2 L1265.5,983.5 L1268.5,974.7 L1271.5,965.8 L1274.5,957.0 L1277.5,948.0 L1280.5,939.0 L1283.5,929.9 L1286.5,920.8 L1289.5,911.6 L1292.5,902.4 L1295.5,893.1 L1298.5,883.8 L1301.5,874.5 L1304.5,865.1 L1307.5,855.6 L1310.5,846.1 L1313.5,836.6 L1316.5,827.1 L1319.5,817.5 L1322.5,807.9 L1325.5,798.2 L1328.5,788.6 L1331.5,778.9 L1334.5,769.2 L1337.5,759.4 L1340.5,749.7 L1343.5,739.9 L1346.5,730.2 L1349.5,720.4 L1352.5,710.6 L1355.5,700.8 L1358.5,691.0 L1361.5,681.3 L1364.5,671.5 L1367.5,661.7 L1370.5,652.0 L1373.5,642.2 L1376.5,632.5 L1379.5,622.8 L1382.5,613.1 L1385.5,603.5 L1388.5,593.9 L1391.5,584.3 L1394.5,574.8 L1397.5,565.2 L1400.5,555.8 L1403.5,546.4 L1406.5,537.0 L1409.5,527.7 L1412.5,518.4 L1415.5,509.2 L1418.5,500.1 L1421.5,491.0 L1424.5,482.0 L1427.5,473.1 L1430.5,464.3 L1433.5,455.5 L1436.5,446.8 L1439.5,438.2 L1442.5,429.7 L1445.5,421.3 L1448.5,412.9 L1451.5,404.7 L1454.5,396.6 L1457.5,388.6 L1460.5,380.7 L1463.5,372.9 L1466.5,365.2 L1469.5,357.6 L1472.5,350.2 L1475.5,342.8 L1478.5,335.6 L1481.5,328.6 L1484.5,321.6 L1487.5,314.8 L1490.5,308.2 L1493.5,301.7 L1496.5,295.3 L1499.5,289.1 L1502.5,283.0 L1505.5,277.1 L1508.5,271.3 L1511.5,265.7 L1514.5,260.2 L1517.5,254.9 L1520.5,249.8 L1523.5,244.8 L1526.5,240.0 L1529.5,235.4 L1532.5,231.0 L1535.5,226.7 L1538.5,222.6 L1541.5,218.7 L1544.5,214.9 L1547.5,211.4 L1550.5,208.0 L1553.5,204.8 L1556.5,201.8 L1559.5,199.0 L1562.5,196.4 L1565.5,194.0 L1568.5,191.7 L1571.5,189.7 L1574.5,187.8 L1577.5,186.2 L1580.5,184.7 L1583.5,183.4 L1586.5,182.4 L1589.5,181.5 L1592.5,180.8 L1595.5,180.4 L1598.5,180.1 L1601.5,180.0 L1604.5,180.1 L1607.5,180.4 L1610.5,180.9 L1613.5,181.7 L1616.5,182.6 L1619.5,183.7 L1622.5,185.0 L1625.5,186.5 L1628.5,188.2 L1631.5,190.1 L1634.5,192.2 L1637.5,194.5 L1640.5,197.0 L1643.5,199.6 L1646.5,202.5 L1649.5,205.5 L1652.5,208.8 L1655.5,212.2 L1658.5,215.8 L1661.5,219.6 L1664.5,223.6 L1667.5,227.7 L1670.5,232.1 L1673.5,236.6 L1676.5,241.3 L1679.5,246.1 L1682.5,251.1 L1685.5,256.3 L1688.5,261.7 L1691.5,267.2 L1694.5,272.9 L1697.5,278.8 L1700.5,284.8 L1703.5,290.9 L1706.5,297.2 L1709.5,303.7 L1712.5,310.3 L1715.5,317.0 L1718.5,323.9 L1721.5,331.0 L1724.5,338.1 L1727.5,345.4 L1730.5,352.8 L1733.5,360.4 L1736.5,368.0 L1739.5,375.8 L1742.5,383.7 L1745.5,391.8 L1748.5,399.9 L1751.5,408.1 L1754.5,416.5 L1757.5,424.9 L1760.5,433.4 L1763.5,442.1 L1766.5,450.8 L1769.5,459.6 L1772.5,468.5 L1775.5,477.5 L1778.5,486.5 L1781.5,495.7 L1784.5,504.9 L1787.5,514.1 L1790.5,523.4 L1793.5,532.8 L1796.5,542.3 L1799.5,551.8 L1802.5,561.3 L1805.5,570.9 L1808.5,580.5 L1811.5,590.2 L1814.5,599.9 L1817.5,609.7 L1820.5,619.5 L1823.5,629.3 L1826.5,639.1 L1829.5,648.9 L1832.5,658.8 L1835.5,668.7 L1838.5,678.6 L1841.5,688.5 L1844.5,698.4 L1847.5,708.3 L1850.5,718.2 L1853.5,728.1 L1856.5,738.0 L1859.5,747.9 L1862.5,757.8 L1865.5,767.6 L1868.5,777.4 L1871.5,787.3 L1874.5,797.1 L1877.5,806.8 L1880.5,816.6 L1883.5,826.3 L1886.5,836.0 L1889.5,845.6 L1892.5,855.2 L1895.5,864.8 L1898.5,874.3 L1901.5,883.7 L1904.5,893.2 L1907.5,902.5 L1910.5,911.9 L1913.5,921.1 L1916.5,930.3 L1919.5,939.5 L1922.5,948.6 L1925.5,957.6 L1928.5,966.6 L1931.5,975.5 L1934.5,984.4 L1937.5,993.1 L1940.5,1001.8 L1943.5,1010.5 L1946.5,1019.0 L1949.5,1027.5 L1952.5,1035.9 L1955.5,1044.3 L1958.5,1052.5 L1961.5,1060.7 L1964.5,1068.8 L1967.5,1076.9 L1970.5,1084.8 L1973.5,1092.7 L1976.5,1100.4 L1979.5,1108.1 L1982.5,1115.7 L1985.5,1123.3 L1988.5,1130.7 L1991.5,1138.1 L1994.5,1145.3 L1997.5,1152.5 L2000.5,1159.6 L2003.5,1166.6 L2006.5,1173.5 L2009.5,1180.3 L2012.5,1187.1 L2015.5,1193.7 L2018.5,1200.3 L2021.5,1206.7 L2024.5,1213.1 L2027.5,1219.4 L2030.5,1225.6 L2033.5,1231.7 L2036.5,1237.7 L2039.5,1243.6 L2042.5,1249.5 L2045.5,1255.2 L2048.5,1260.9 L2051.5,1266.5 L2054.5,1271.9 L2057.5,1277.3 L2060.5,1282.6 L2063.5,1287.9 L2066.5,1293.0 L2069.5,1298.0 L2072.5,1303.0 L2075.5,1307.9 L2078.5,1312.6 L2081.5,1317.3 L2084.5,1321.9 L2087.5,1326.5 L2090.5,1330.9 L2093.5,1335.3 L2096.5,1339.6 L2099.5,1343.8 L2102.5,1347.9 L2105.5,1351.9 L2108.5,1355.9 L2111.5,1359.8 L2114.5,1363.6 L2117.5,1367.3 L2120.5,1371.0 L2123.5,1374.6 L2126.5,1378.1 L2129.5,1381.5 L2132.5,1384.8 L2135.5,1388.1 L2138.5,1391.3 L2141.5,1394.5 L2144.5,1397.5 L2147.5,1400.6 L2150.5,1403.5 L2153.5,1406.4 L2156.5,1409.2 L2159.5,1411.9 L2162.5,1414.6 L2165.5,1417.2 L2168.5,1419.7 L2171.5,1422.2 L2174.5,1424.6 L2177.5,1427.0 L2180.5,1429.3 L2183.5,1431.5 L2186.5,1433.7 L2189.5,1435.9 L2192.5,1437.9 L2195.5,1439.9 L2198.5,1441.9 L2201.5,1443.8 L2204.5,1445.7 L2207.5,1447.5 L2210.5,1449.3 L2213.5,1451.0 L2216.5,1452.6 L2219.5,1454.2 L2222.5,1455.8 L2225.5,1457.3 L2228.5,1458.8 L2231.5,1460.2 L2234.5,1461.6 L2237.5,1462.9 L2240.5,1464.2 L2243.5,1465.5 L2246.5,1466.7 L2249.5,1467.9 L2252.5,1469.0 L2255.5,1470.1 L2258.5,1471.2 L2261.5,1472.2 L2264.5,1473.2 L2267.5,1474.1 L2270.5,1475.0 L2273.5,1475.9 L2276.0,1476.6" fill="none" stroke="#0033ff" stroke-width="11" stroke-linejoin="round"/>
<text x="755.5" y="396" text-anchor="middle" font-size="90" class="t" textLength="250" lengthAdjust="spacingAndGlyphs">396nm</text>
<text x="1692" y="149" text-anchor="middle" font-size="90" class="t" textLength="244" lengthAdjust="spacingAndGlyphs">538nm</text>
<text x="1591.5" y="666" text-anchor="middle" font-size="90" class="t" textLength="250" lengthAdjust="spacingAndGlyphs">514nm</text>
<rect x="337" y="1136" width="185" height="6" fill="#808080"/>
<rect x="337" y="1142" width="185" height="6" fill="#000"/>
<rect x="337" y="1148" width="185" height="6" fill="#aaa"/>
<rect x="522" y="1142" width="6" height="6" fill="#777"/>
<rect x="337" y="1271" width="185" height="6" fill="#fde0e0"/>
<rect x="337" y="1277" width="185" height="6" fill="#ff0c10"/>
<rect x="337" y="1283" width="185" height="6" fill="#ff4a4f"/>
<rect x="522" y="1277" width="6" height="6" fill="#ffa0a0"/>
<rect x="337" y="1400" width="185" height="6" fill="#e2defc"/>
<rect x="337" y="1406" width="185" height="13" fill="#0033ff"/>
<rect x="337" y="1419" width="185" height="5" fill="#e4e0fc"/>
<rect x="522" y="1406" width="6" height="13" fill="#a090ff"/>
<text x="539" y="1172" font-size="88" class="t" textLength="152" lengthAdjust="spacingAndGlyphs">TiO</text>
<text x="687" y="1208" font-size="60" class="t">2</text>
<text x="542" y="1310" font-size="88" class="t" textLength="399" lengthAdjust="spacingAndGlyphs">GQDs/TiO</text>
<text x="939" y="1338" font-size="60" class="t">2</text>
<text x="542" y="1441" font-size="88" class="t" textLength="229" lengthAdjust="spacingAndGlyphs">GQDs</text>
<text x="1253.5" y="1940" text-anchor="middle" font-size="108" class="t ttl" textLength="764" lengthAdjust="spacingAndGlyphs">Wavelength(nm)</text>
<text transform="translate(96,866) rotate(-90)" x="0" y="0" text-anchor="middle" font-size="110" class="t ttl" textLength="815" lengthAdjust="spacingAndGlyphs">PL intensity(a.u.)</text></svg>
</body></html>
